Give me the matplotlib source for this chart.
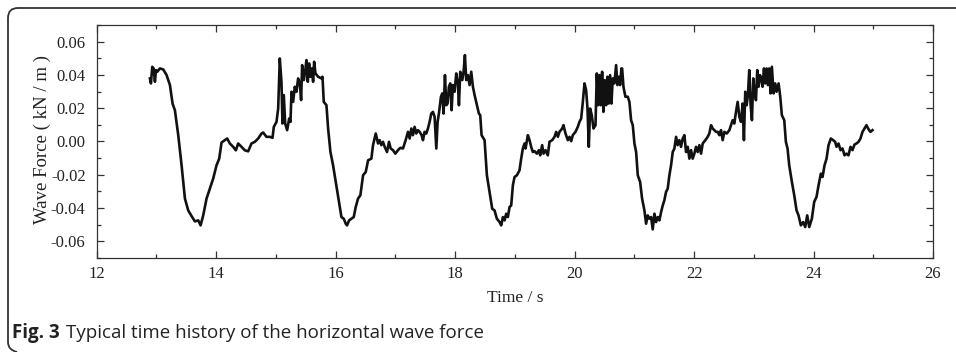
import matplotlib
matplotlib.use("Agg")
import matplotlib.pyplot as plt
from matplotlib.ticker import MultipleLocator, FormatStrFormatter
from matplotlib.path import Path
from matplotlib.patches import PathPatch

plt.rcParams['axes.unicode_minus'] = False

# Time (s) and horizontal wave force (kN/m)
time_s = [
    12.891, 12.908, 12.930, 12.953, 12.975, 12.992, 13.014, 13.058, 13.114, 13.170,
    13.226, 13.270, 13.309, 13.365, 13.421, 13.477, 13.532, 13.588, 13.644, 13.700,
    13.739, 13.783, 13.839, 13.895, 13.950, 14.006, 14.051, 14.090, 14.145, 14.184,
    14.229, 14.285, 14.329, 14.368, 14.424, 14.480, 14.536, 14.591, 14.647, 14.703,
    14.759, 14.787, 14.842, 14.900, 14.943, 14.965, 15.010, 15.038, 15.065, 15.093,
    15.110, 15.132, 15.155, 15.188, 15.222, 15.244, 15.261, 15.288, 15.316, 15.344,
    15.372, 15.400, 15.422, 15.439, 15.467, 15.489, 15.511, 15.534, 15.556, 15.578,
    15.601, 15.623, 15.640, 15.662, 15.707, 15.762, 15.780, 15.801, 15.846, 15.874,
    15.913, 15.957, 16.002, 16.041, 16.069, 16.097, 16.136, 16.169, 16.191, 16.225,
    16.264, 16.303, 16.336, 16.375, 16.414, 16.459, 16.504, 16.543, 16.598, 16.626,
    16.671, 16.710, 16.737, 16.765, 16.793, 16.821, 16.860, 16.893, 16.921, 16.960,
    16.999, 17.044, 17.083, 17.127, 17.172, 17.211, 17.239, 17.267, 17.294, 17.322,
    17.350, 17.378, 17.406, 17.439, 17.462, 17.489, 17.517, 17.545, 17.573, 17.601,
    17.629, 17.657, 17.685, 17.707, 17.729, 17.763, 17.785, 17.807, 17.830, 17.852,
    17.874, 17.896, 17.919, 17.941, 17.963, 17.991, 18.019, 18.047, 18.064, 18.086,
    18.120, 18.142, 18.164, 18.186, 18.214, 18.242, 18.270, 18.298, 18.326, 18.365,
    18.398, 18.420, 18.443, 18.493, 18.532, 18.577, 18.621, 18.660, 18.699, 18.744,
    18.772, 18.800, 18.828, 18.855, 18.883, 18.911, 18.939, 18.967, 18.995, 19.034,
    19.078, 19.106, 19.134, 19.162, 19.179, 19.218, 19.246, 19.273, 19.301, 19.329,
    19.368, 19.402, 19.424, 19.457, 19.480, 19.513, 19.552, 19.580, 19.625, 19.664,
    19.692, 19.720, 19.747, 19.792, 19.814, 19.848, 19.887, 19.915, 19.943, 19.970,
    20.015, 20.054, 20.082, 20.110, 20.138, 20.166, 20.193, 20.216, 20.238, 20.260,
    20.288, 20.316, 20.350, 20.372, 20.394, 20.416, 20.439, 20.461, 20.483, 20.505,
    20.528, 20.550, 20.572, 20.595, 20.617, 20.639, 20.667, 20.695, 20.717, 20.740,
    20.762, 20.784, 20.796, 20.818, 20.851, 20.890, 20.918, 20.946, 20.974, 21.002,
    21.030, 21.058, 21.097, 21.130, 21.169, 21.197, 21.225, 21.253, 21.281, 21.308,
    21.336, 21.364, 21.392, 21.420, 21.448, 21.476, 21.503, 21.531, 21.559, 21.587,
    21.615, 21.643, 21.671, 21.699, 21.726, 21.754, 21.782, 21.810, 21.838, 21.866,
    21.894, 21.922, 21.950, 21.977, 22.005, 22.033, 22.061, 22.089, 22.117, 22.145,
    22.189, 22.228, 22.256, 22.284, 22.312, 22.340, 22.368, 22.395, 22.423, 22.451,
    22.479, 22.507, 22.546, 22.591, 22.619, 22.646, 22.674, 22.702, 22.730, 22.758,
    22.786, 22.813, 22.835, 22.857, 22.880, 22.902, 22.924, 22.947, 22.969, 22.991,
    23.013, 23.036, 23.058, 23.080, 23.103, 23.125, 23.147, 23.170, 23.192, 23.214,
    23.236, 23.259, 23.281, 23.303, 23.331, 23.359, 23.381, 23.415, 23.443, 23.470,
    23.510, 23.537, 23.565, 23.593, 23.638, 23.677, 23.716, 23.749, 23.788, 23.827,
    23.861, 23.894, 23.928, 23.972, 24.011, 24.050, 24.084, 24.123, 24.151, 24.184,
    24.218, 24.251, 24.290, 24.329, 24.362, 24.385, 24.418, 24.452, 24.485, 24.519,
    24.552, 24.585, 24.619, 24.652, 24.686, 24.719, 24.753, 24.786, 24.820, 24.853,
    24.886, 24.920, 24.953, 24.987,
]
force_kn_m = [
    0.0379, 0.0349, 0.0449, 0.0439, 0.0359, 0.0429, 0.0419, 0.0439, 0.0433, 0.0399,
    0.0339, 0.0228, 0.0188, 0.0038, -0.0143, -0.0343, -0.0414, -0.0448, -0.0480, -0.0474,
    -0.0504, -0.0444, -0.0343, -0.0283, -0.0223, -0.0143, -0.0103, -0.0006, 0.0008, 0.0018,
    -0.0012, -0.0032, -0.0053, -0.0012, -0.0032, -0.0053, -0.0059, -0.0012, -0.0002, 0.0018,
    0.0048, 0.0054, 0.0028, 0.0028, 0.0022, 0.0088, 0.0118, 0.0198, 0.0499, 0.0359,
    0.0108, 0.0279, 0.0108, 0.0068, 0.0138, 0.0118, 0.0299, 0.0238, 0.0329, 0.0299,
    0.0379, 0.0349, 0.0249, 0.0459, 0.0369, 0.0419, 0.0489, 0.0359, 0.0469, 0.0389,
    0.0439, 0.0359, 0.0479, 0.0409, 0.0389, 0.0379, 0.0389, 0.0238, 0.0218, 0.0078,
    -0.0063, -0.0143, -0.0243, -0.0333, -0.0394, -0.0454, -0.0464, -0.0494, -0.0504, -0.0474,
    -0.0464, -0.0454, -0.0394, -0.0343, -0.0323, -0.0203, -0.0183, -0.0113, -0.0103, -0.0022,
    0.0048, -0.0012, 0.0008, -0.0022, -0.0002, -0.0032, -0.0063, -0.0002, -0.0042, -0.0052,
    -0.0073, -0.0052, -0.0038, -0.0042, 0.0008, 0.0058, 0.0018, 0.0078, 0.0038, 0.0088,
    0.0048, 0.0068, 0.0058, 0.0038, 0.0008, 0.0058, 0.0048, 0.0078, 0.0118, 0.0168,
    0.0178, 0.0148, -0.0042, 0.0118, 0.0168, 0.0269, 0.0289, 0.0168, 0.0399, 0.0218,
    0.0228, 0.0329, 0.0349, 0.0188, 0.0339, 0.0299, 0.0409, 0.0349, 0.0218, 0.0419,
    0.0369, 0.0419, 0.0519, 0.0369, 0.0399, 0.0339, 0.0419, 0.0329, 0.0279, 0.0218,
    0.0168, 0.0158, 0.0038, 0.0008, -0.0203, -0.0303, -0.0404, -0.0414, -0.0464, -0.0484,
    -0.0504, -0.0454, -0.0474, -0.0434, -0.0454, -0.0394, -0.0384, -0.0263, -0.0213, -0.0203,
    -0.0173, -0.0103, -0.0042, -0.0012, -0.0042, 0.0038, 0.0008, -0.0032, -0.0063, -0.0058,
    -0.0073, -0.0052, -0.0083, -0.0022, -0.0073, -0.0052, -0.0083, -0.0002, 0.0008, 0.0028,
    0.0058, 0.0028, 0.0058, 0.0078, 0.0098, 0.0048, 0.0008, 0.0028, 0.0002, 0.0038,
    0.0058, 0.0088, 0.0118, 0.0138, 0.0238, 0.0349, 0.0309, 0.0198, -0.0032, 0.0198,
    0.0158, 0.0078, 0.0098, 0.0409, 0.0218, 0.0399, 0.0218, 0.0419, 0.0178, 0.0369,
    0.0218, 0.0389, 0.0228, 0.0399, 0.0228, 0.0379, 0.0349, 0.0459, 0.0339, 0.0389,
    0.0339, 0.0439, 0.0439, 0.0329, 0.0269, 0.0269, 0.0238, 0.0128, 0.0098, -0.0012,
    -0.0063, -0.0203, -0.0243, -0.0343, -0.0414, -0.0494, -0.0444, -0.0464, -0.0454, -0.0528,
    -0.0434, -0.0484, -0.0454, -0.0474, -0.0424, -0.0384, -0.0353, -0.0303, -0.0283, -0.0203,
    -0.0143, -0.0063, -0.0042, 0.0028, -0.0022, 0.0008, -0.0032, 0.0018, 0.0038, -0.0063,
    -0.0032, -0.0103, -0.0052, -0.0103, -0.0073, -0.0032, -0.0063, -0.0022, -0.0073, -0.0012,
    0.0008, 0.0028, 0.0048, 0.0098, 0.0078, 0.0068, 0.0058, 0.0058, 0.0038, 0.0068,
    0.0008, 0.0058, 0.0048, 0.0068, 0.0098, 0.0128, 0.0108, 0.0178, 0.0238, 0.0148,
    0.0118, 0.0228, 0.0008, 0.0299, 0.0218, 0.0279, 0.0429, 0.0218, 0.0128, 0.0379,
    0.0299, 0.0248, 0.0429, 0.0329, 0.0399, 0.0379, 0.0329, 0.0439, 0.0349, 0.0439,
    0.0339, 0.0439, 0.0289, 0.0449, 0.0289, 0.0349, 0.0299, 0.0349, 0.0269, 0.0158,
    0.0128, -0.0002, -0.0042, -0.0143, -0.0243, -0.0323, -0.0414, -0.0444, -0.0504, -0.0484,
    -0.0514, -0.0444, -0.0514, -0.0464, -0.0363, -0.0333, -0.0263, -0.0193, -0.0213, -0.0143,
    -0.0103, -0.0022, 0.0018, 0.0008, -0.0002, -0.0032, -0.0012, -0.0052, -0.0042, -0.0083,
    -0.0073, -0.0083, -0.0032, -0.0052, -0.0018, -0.0012, -0.0002, 0.0018, 0.0058, 0.0078,
    0.0098, 0.0074, 0.0058, 0.0068,
]

x_ticks = [12, 14, 16, 18, 20, 22, 24, 26]
y_ticks = [-0.06, -0.04, -0.02, 0.00, 0.02, 0.04, 0.06]

W, H = 956, 352
fig = plt.figure(figsize=(W / 100, H / 100), dpi=100)
ax = fig.add_axes([96.7 / W, 1 - 258 / H, (933 - 96.7) / W, (258 - 25) / H])

ax.plot(time_s, force_kn_m, color='#111111', lw=1.9)
ax.set_xlim(12, 26)
ax.set_ylim(-0.07, 0.07)
ax.set_xticks(x_ticks)
ax.set_yticks(y_ticks)
ax.xaxis.set_minor_locator(MultipleLocator(1))
ax.yaxis.set_minor_locator(MultipleLocator(0.01))
ax.yaxis.set_major_formatter(FormatStrFormatter('%.2f'))
ax.tick_params(which='both', direction='in', top=True, right=True, color='#333333', width=0.9)
ax.tick_params(which='major', length=5, labelsize=12)
ax.tick_params(axis='y', which='major', pad=8)
ax.tick_params(axis='x', which='major', pad=6)
ax.tick_params(which='minor', length=3)
for lab in ax.get_xticklabels() + ax.get_yticklabels():
    lab.set_fontfamily('Liberation Serif')
    lab.set_color('#222222')
for s in ax.spines.values():
    s.set_color('#333333')
    s.set_linewidth(0.9)

ax.set_xlabel('Time / s', fontfamily='Liberation Serif', fontsize=12.5, color='#222222', va='center')
ax.xaxis.set_label_coords(0.5, (258 - 298) / 233)
ax.set_ylabel('Wave Force ( kN / m )', fontfamily='Liberation Serif', fontsize=13.5, color='#222222',
              va='center')
ax.yaxis.set_label_coords((42 - 96.7) / 836.3, 0.51)

# caption
cap = fig.text(12 / W, 1 - 333 / H, 'Fig. 3', fontfamily='Open Sans', fontweight='bold', fontsize=13.5,
               color='#222222', va='center', ha='left')
fig.text(66 / W, 1 - 333 / H, 'Typical time history of the horizontal wave force', fontfamily='Open Sans',
         fontsize=13.5, color='#222222', va='center', ha='left')

# rounded frame (left and top edges)
r = 10
path_pts = [
    (17, 352), (8, 350), (8, 342),
    (8, 8 + r), (8, 8), (8 + r, 8),
    (W + 2, 8),
]
codes = [Path.MOVETO, Path.CURVE3, Path.CURVE3, Path.LINETO, Path.CURVE3, Path.CURVE3, Path.LINETO]
pts = [(x / W, 1 - y / H) for x, y in path_pts]
frame = PathPatch(Path(pts, codes), transform=fig.transFigure, fill=False,
                  edgecolor='#333333', lw=1.3, clip_on=False)
fig.add_artist(frame)

fig.savefig('out.png', dpi=100)
